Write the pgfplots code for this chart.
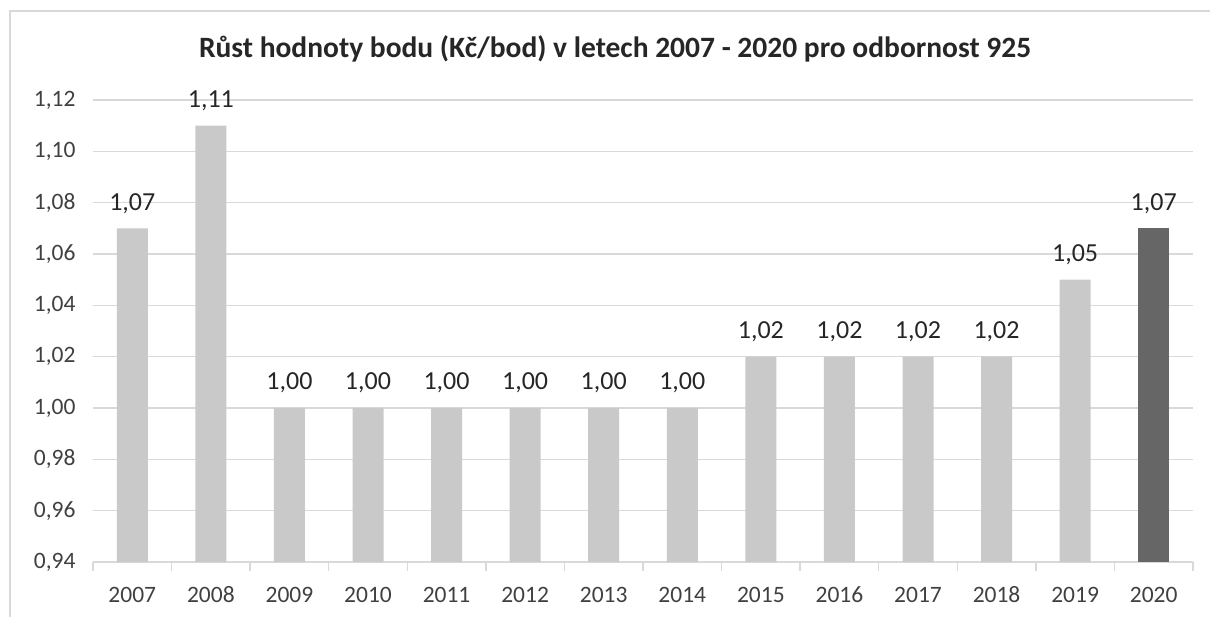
\documentclass[border=0pt]{standalone}
\usepackage{pgfplots}
\pgfplotsset{compat=1.18}
\usepackage{fontspec}
\setmainfont{Carlito}
\definecolor{gridc}{HTML}{D9D9D9}
\definecolor{barl}{HTML}{C9C9C9}
\definecolor{bard}{HTML}{666666}
\definecolor{txt}{HTML}{404040}
\definecolor{ttl}{HTML}{262626}
\begin{document}
\begin{tikzpicture}[x=1pt,y=1pt]
\useasboundingbox (0,0) rectangle (1210,616);
\begin{scope}
\clip (0,0) rectangle (1210,616);
\draw[gridc, line width=2pt] (10,605) rectangle (1230,-20);
\end{scope}
\begin{axis}[
  at={(93pt,54pt)}, anchor=south west,
  scale only axis, width=1100pt, height=462pt,
  xmin=-0.5, xmax=13.5, ymin=0.94, ymax=1.12,
  ytick={0.94,0.96,...,1.121},
  xtick={0,...,13},
  xticklabels={2007,2008,2009,2010,2011,2012,2013,2014,2015,2016,2017,2018,2019,2020},
  minor xtick={-0.5,0.5,...,13.6},
  major tick length=0pt,
  minor tick length=9pt,
  tick align=outside,
  minor tick style={gridc, line width=1.5pt},
  axis line style={draw=none},
  axis x line*=bottom,
  axis y line*=left,
  ymajorgrids, grid style={gridc, line width=1.5pt},
  /pgf/number format/assume math mode=true,
  /pgf/number format/fixed,
  /pgf/number format/fixed zerofill,
  /pgf/number format/precision=2,
  /pgf/number format/use comma,
  scaled y ticks=false,
  ticklabel style={font=\fontsize{23.5}{26}\selectfont, text=txt},
  yticklabel style={xshift=-14pt},
  xticklabel style={anchor=base, text height=16pt, text depth=0pt, yshift=-40pt},
  title={Růst hodnoty bodu (Kč/bod) v letech 2007 - 2020 pro odbornost 925},
  title style={at={(axis description cs:0.5,1)}, anchor=base, yshift=36pt, xshift=-28pt, font=\bfseries\fontsize{29.5}{32}\selectfont, text=ttl},
  ybar, bar width=31pt,
  nodes near coords,
  every node near coord/.append style={anchor=base, yshift=18pt, font=\fontsize{26}{29}\selectfont, text=ttl},
  clip=false,
]
\draw[gridc, line width=1.5pt] (axis cs:-0.5,0.94) -- (axis cs:13.5,0.94);
\addplot[fill=barl, draw=none, bar shift=0pt] coordinates {
(0,1.07) (1,1.11) (2,1.00) (3,1.00) (4,1.00) (5,1.00) (6,1.00) (7,1.00) (8,1.02) (9,1.02) (10,1.02) (11,1.02) (12,1.05)};
\addplot[fill=bard, draw=none, bar shift=0pt] coordinates {(13,1.07)};
\end{axis}
\end{tikzpicture}
\end{document}
